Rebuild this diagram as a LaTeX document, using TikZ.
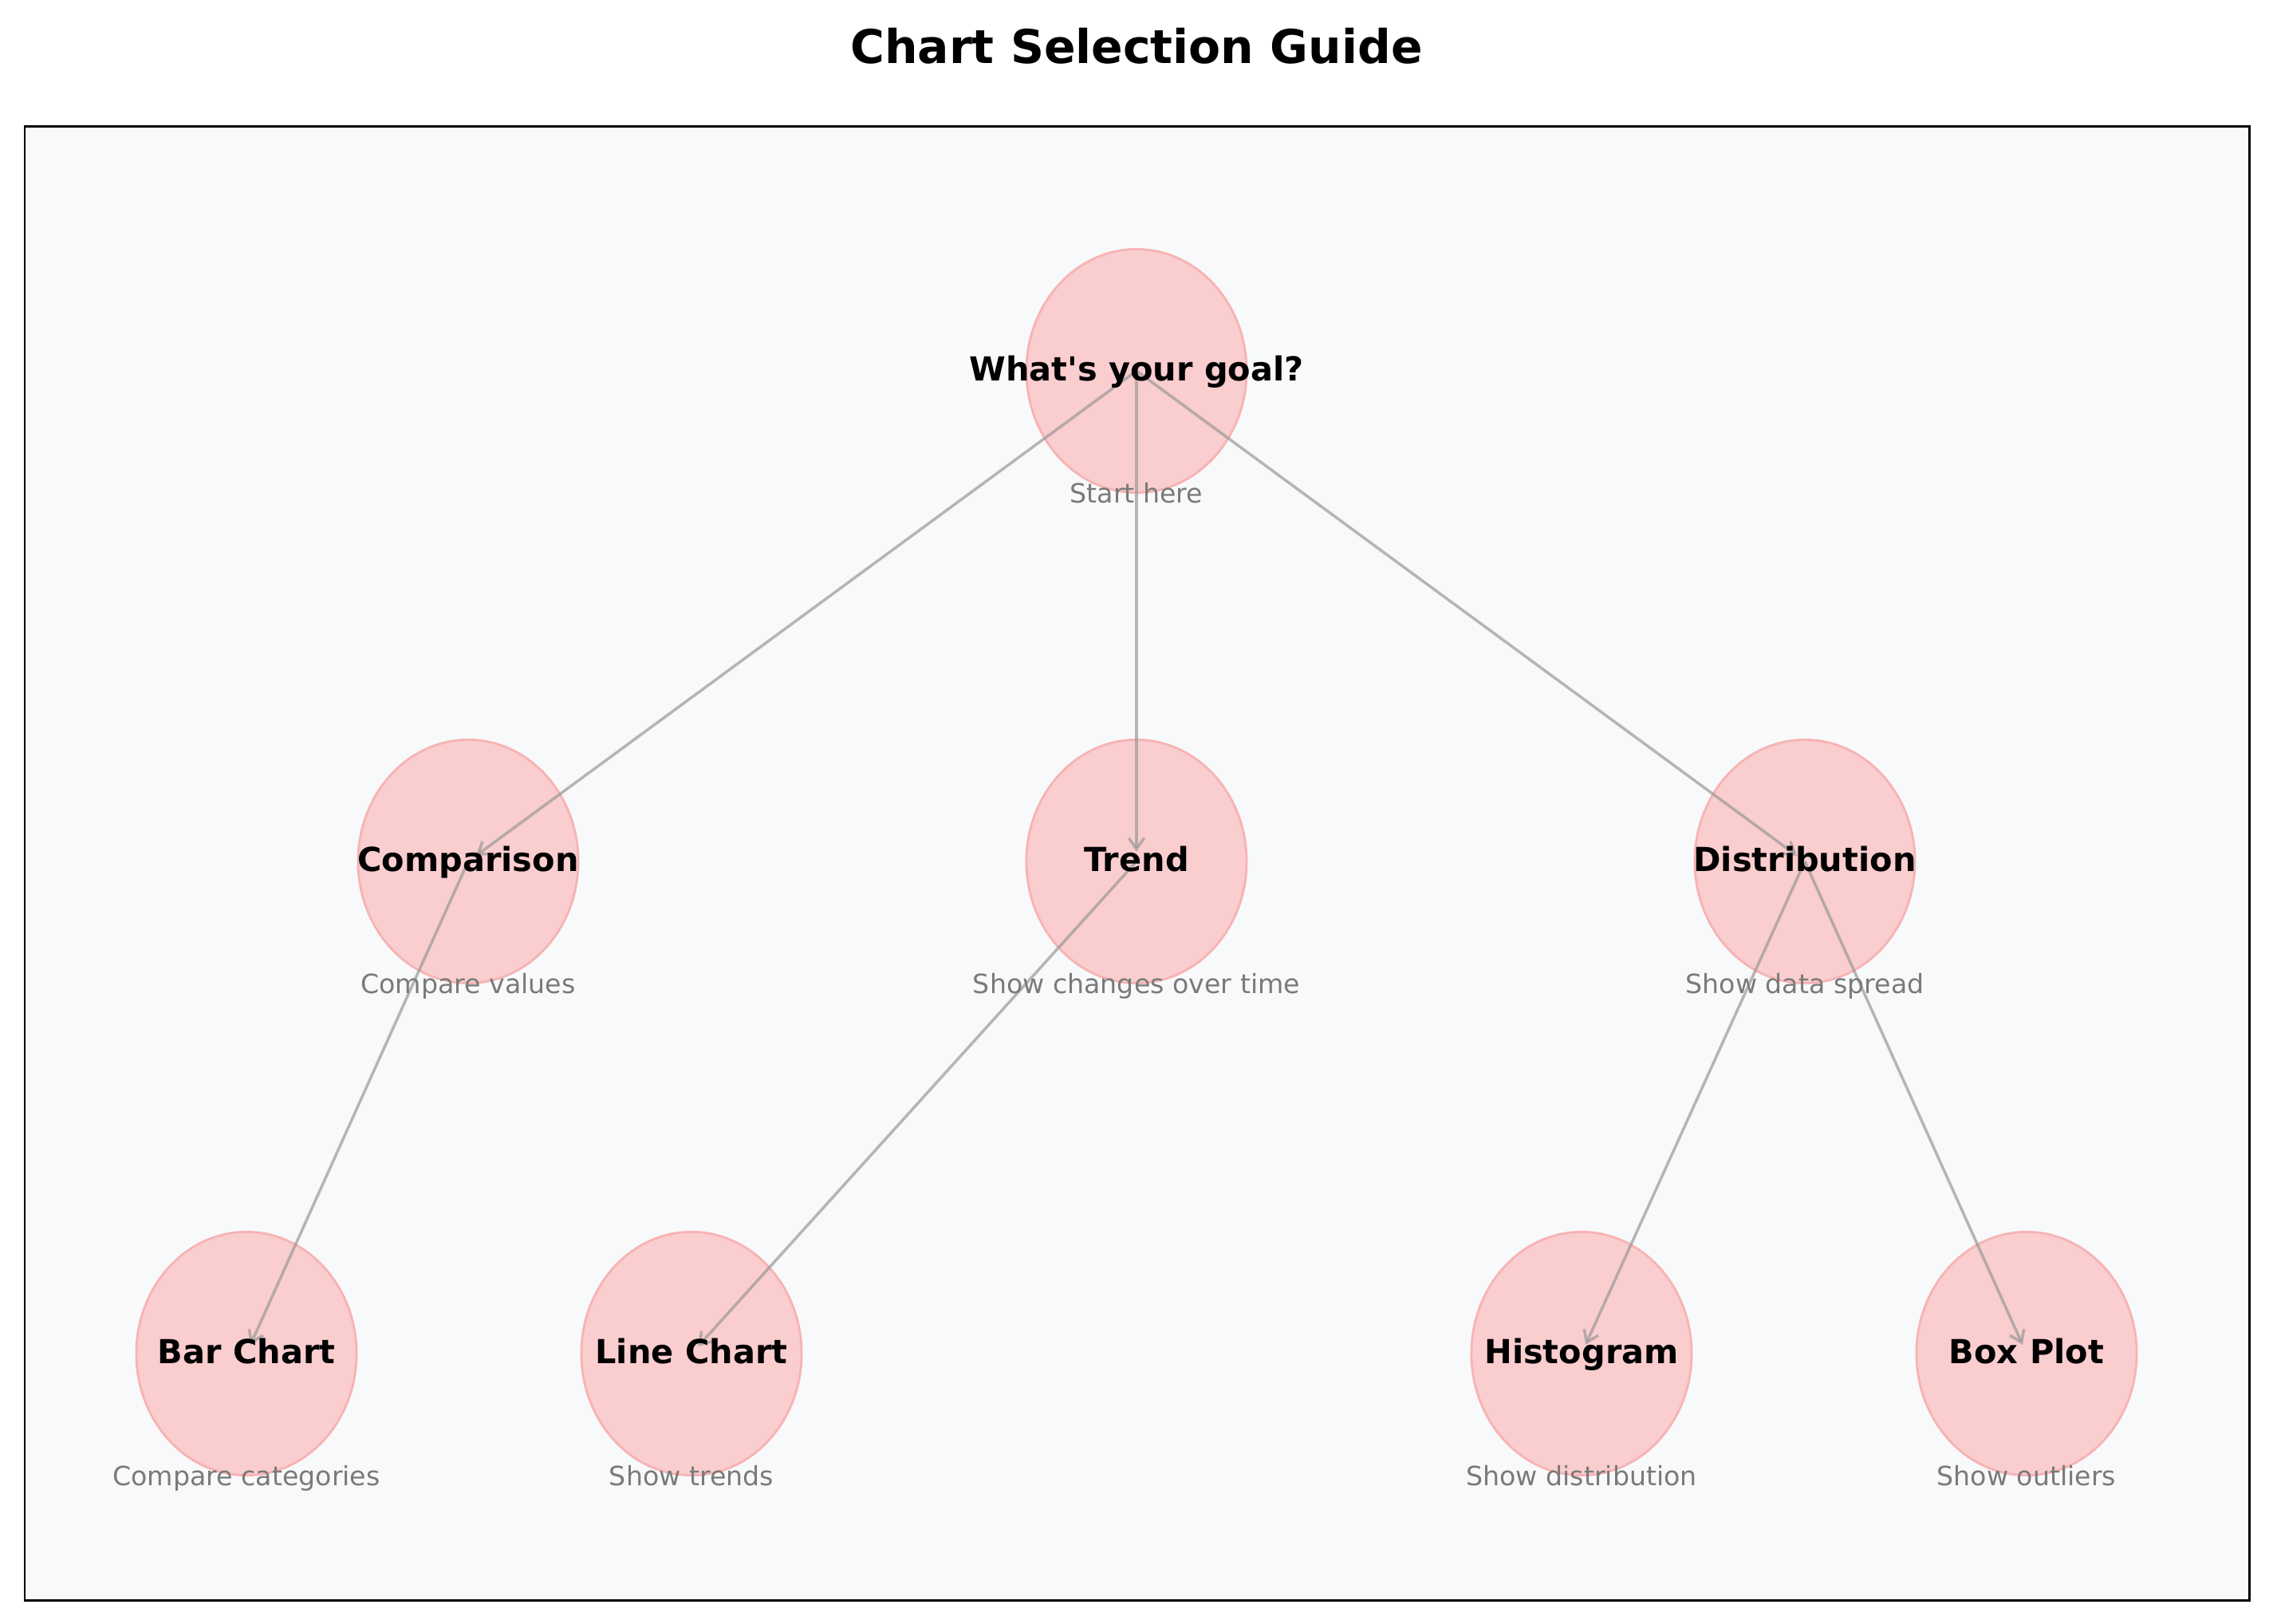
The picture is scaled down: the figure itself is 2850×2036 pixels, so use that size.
\documentclass[tikz,border=0pt]{standalone}
\usepackage{fontspec}
\setmainfont{DejaVu Sans}
\usetikzlibrary{arrows.meta}
\usetikzlibrary{shapes.geometric}
\usetikzlibrary{positioning}

\definecolor{panelbg}{HTML}{F8F9FA}
\definecolor{bubblefill}{HTML}{FACDCE}
\definecolor{bubbleedge}{HTML}{F7B3B4}
\definecolor{linkgray}{HTML}{999999}
\definecolor{notegray}{HTML}{7A7A7A}

\tikzset{
	bubble/.style={draw=bubbleedge, fill=bubblefill, ellipse, line width=0.8pt, minimum width=2.76cm, minimum height=3.05cm, inner sep=0pt},
	choice/.style={font=\fontsize{11.8}{14}\selectfont\bfseries, inner sep=0pt, text height=0.73em, text depth=0pt},
	note/.style={font=\fontsize{9.45}{11}\selectfont, text=notegray, inner sep=0pt, text height=0.73em, text depth=0pt},
	link/.style={->, draw=linkgray, draw opacity=0.7, line width=1pt, shorten >=3.5pt}
}

\begin{document}
\begin{tikzpicture}[x=0.01cm, y=-0.01cm, >={Straight Barb[length=4pt,width=5.5pt]}]
	
	\useasboundingbox (0, 0) rectangle (2850, 2036);
	\draw [fill=panelbg, line width=0.85pt] (31, 158.5) rectangle (2820, 2006.5);
	\node [font=\fontsize{16.6}{20}\selectfont\bfseries] at (1425, 58) (heading){Chart Selection Guide};
	
	\node [bubble] at (1425, 465) (start){};
	
	\node [bubble] at (587, 1080) (comp){};
	\node [bubble] at (1425, 1080) (trend){};
	\node [bubble] at (2263, 1080) (dist){};
	
	\node [bubble] at (309, 1697) (bar){};
	\node [bubble] at (867, 1697) (line){};
	\node [bubble] at (1983, 1697) (hist){};
	\node [bubble] at (2541, 1697) (box){};
	
	\foreach \a/\b in {start/comp, start/trend, start/dist, comp/bar, trend/line, dist/hist, dist/box}{
		\draw [link] (\a.center) -- (\b.center);
	}
	
	\node [choice] at (start) (start_txt){What\textquotesingle s your goal?};
	\node [choice] at (comp) (comp_txt){Comparison};
	\node [choice] at (trend) (trend_txt){Trend};
	\node [choice] at (dist) (dist_txt){Distribution};
	\node [choice] at (bar) (bar_txt){Bar Chart};
	\node [choice] at (line) (line_txt){Line Chart};
	\node [choice] at (hist) (hist_txt){Histogram};
	\node [choice] at (box) (box_txt){Box Plot};
	
	\node [note] at (1425, 618) (start_note){Start here};
	\node [note] at (587, 1233) (comp_note){Compare values};
	\node [note] at (1425, 1233) (trend_note){Show changes over time};
	\node [note] at (2263, 1233) (dist_note){Show data spread};
	\node [note] at (309, 1850) (bar_note){Compare categories};
	\node [note] at (867, 1850) (line_note){Show trends};
	\node [note] at (1983, 1850) (hist_note){Show distribution};
	\node [note] at (2541, 1850) (box_note){Show outliers};
	
\end{tikzpicture}
\end{document}
